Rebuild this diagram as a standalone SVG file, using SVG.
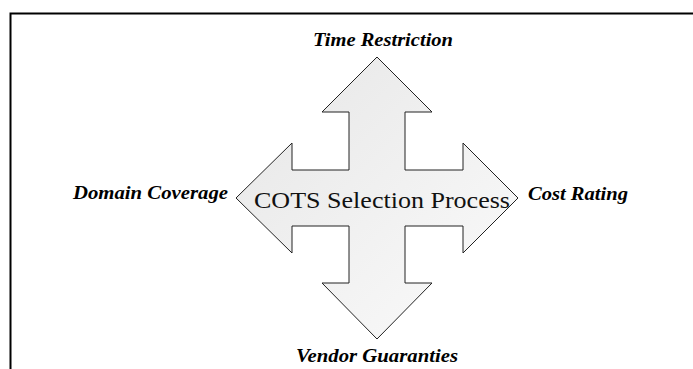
<svg xmlns="http://www.w3.org/2000/svg" width="693" height="369" viewBox="0 0 693 369">
<style>
.lbl{font-family:"Liberation Serif","DejaVu Serif",serif;font-weight:bold;font-style:italic;font-size:18px;fill:#000}
.main{font-family:"Liberation Serif","DejaVu Serif",serif;font-size:23px;fill:#111}
.frame{fill:none;stroke:#000;stroke-width:2}
.arrow{fill:url(#g);stroke:#222;stroke-width:1}
</style>
<defs>
<linearGradient id="g" x1="0" y1="0" x2="1" y2="1">
<stop offset="0" stop-color="#e6e6e6"/>
<stop offset="1" stop-color="#fbfbfb"/>
</linearGradient>
</defs>
<rect width="693" height="369" fill="#fff"/>
<path class="frame" d="M10.5,369 V13.5 H693"/>
<g id="cots-process">
<path class="arrow" d="M377,57 L432,112 L405,112 L405,170 L463,170 L463,143 L518,198 L463,253 L463,226 L405,226 L405,283 L432,283 L377,339 L322,283 L349,283 L349,226 L292,226 L292,253 L236,198 L292,143 L292,170 L349,170 L349,112 L322,112 Z"/>
<text class="main" x="254" y="208" textLength="256" lengthAdjust="spacingAndGlyphs">COTS Selection Process</text>
</g>
<g id="time-restriction"><text class="lbl" x="313" y="46" textLength="140" lengthAdjust="spacingAndGlyphs">Time Restriction</text></g>
<g id="domain-coverage"><text class="lbl" x="73" y="199" textLength="155" lengthAdjust="spacingAndGlyphs">Domain Coverage</text></g>
<g id="cost-rating"><text class="lbl" x="528" y="200" textLength="100" lengthAdjust="spacingAndGlyphs">Cost Rating</text></g>
<g id="vendor-guaranties"><text class="lbl" x="296" y="362" textLength="162" lengthAdjust="spacingAndGlyphs">Vendor Guaranties</text></g>
<g id="connectors"></g>
</svg>
